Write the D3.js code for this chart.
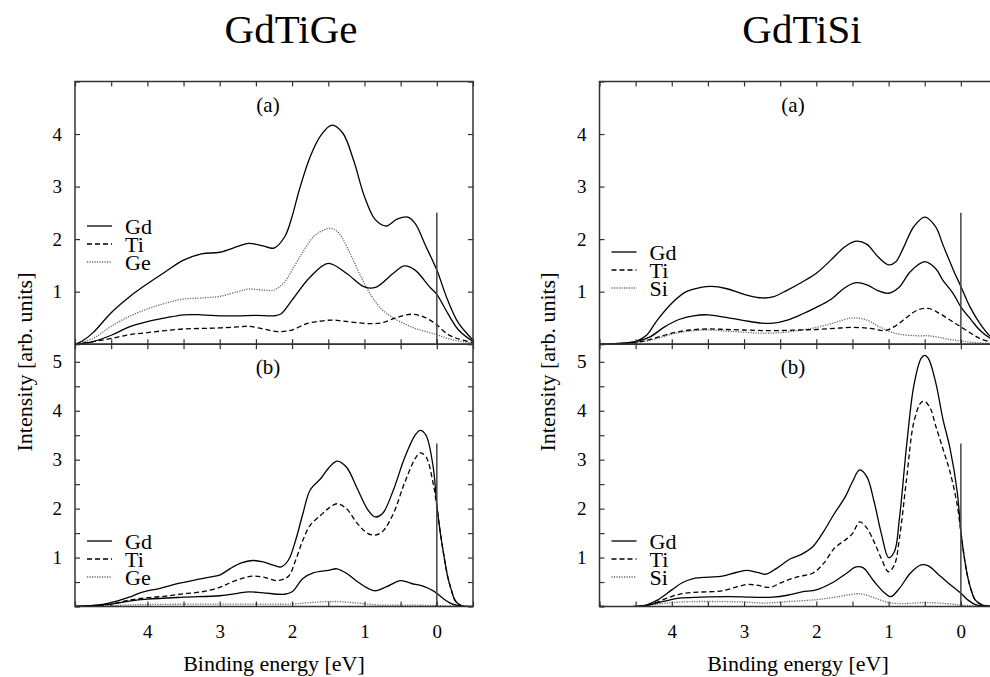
<!DOCTYPE html>
<html>
<head>
<meta charset="utf-8">
<script src="https://cdn.jsdelivr.net/npm/d3@7"></script>
<style>
  html, body { margin: 0; padding: 0; background: #fff; }
  svg { display: block; font-family: 'Liberation Serif', 'DejaVu Serif', serif; }
  svg text { font-family: 'Liberation Serif', 'DejaVu Serif', serif !important; fill: #000; }
</style>
</head>
<body>
<svg id="chart" width="990" height="677"></svg>
<script>
// ---------------- DATA (binding energy [eV], intensity [arb. units]) ----------------
const titles = ["GdTiGe", "GdTiSi"];
const panelLabels = ["(a)", "(b)"];
const legendGe = ["Gd", "Ti", "Ge"];
const legendSi = ["Gd", "Ti", "Si"];
const xTickLabels = [4, 3, 2, 1, 0];
const yTickLabelsTop = [1, 2, 3, 4];
const yTickLabelsBottom = [1, 2, 3, 4, 5];
const fermiTop = 2.5;
const fermiBottom = 3.33;

// GdTiGe (a)
const geA_gdUpper = [[5,0],[4.9,0.06],[4.75,0.22],[4.5,0.6],[4.25,0.9],[4,1.15],[3.75,1.38],[3.5,1.6],[3.25,1.72],[3,1.75],[2.75,1.86],[2.6,1.92],[2.4,1.87],[2.25,1.83],[2.1,2.05],[2,2.43],[1.9,2.94],[1.75,3.57],[1.6,3.98],[1.45,4.17],[1.3,4.02],[1.15,3.5],[1,2.81],[0.85,2.37],[0.7,2.25],[0.55,2.38],[0.4,2.42],[0.3,2.3],[0.15,1.86],[0,1.41],[-0.15,0.84],[-0.3,0.4],[-0.5,0.08]];
const geA_gdLower = [[5,0],[4.75,0.05],[4.5,0.17],[4.25,0.33],[4,0.43],[3.75,0.5],[3.5,0.56],[3.25,0.56],[3,0.54],[2.75,0.54],[2.5,0.55],[2.25,0.54],[2.15,0.58],[2,0.84],[1.75,1.28],[1.5,1.54],[1.25,1.35],[1,1.09],[0.85,1.08],[0.6,1.35],[0.45,1.49],[0.3,1.41],[0.1,1.09],[0,0.95],[-0.15,0.59],[-0.3,0.27],[-0.5,0.05]];
const geA_ti = [[5,0],[4.75,0.05],[4.5,0.11],[4.25,0.18],[4,0.22],[3.75,0.26],[3.5,0.29],[3.25,0.3],[3,0.31],[2.75,0.33],[2.6,0.34],[2.4,0.29],[2.2,0.24],[2,0.27],[1.8,0.39],[1.6,0.44],[1.45,0.46],[1.3,0.44],[1.1,0.41],[0.9,0.39],[0.75,0.41],[0.55,0.51],[0.35,0.57],[0.2,0.53],[0.05,0.42],[0,0.37],[-0.15,0.19],[-0.3,0.1],[-0.5,0.03]];
const geA_ge = [[5,0],[4.75,0.11],[4.5,0.34],[4.25,0.53],[4,0.67],[3.75,0.78],[3.5,0.86],[3.25,0.88],[3,0.91],[2.75,1.0],[2.6,1.05],[2.4,1.03],[2.25,1.03],[2.1,1.19],[2,1.41],[1.85,1.76],[1.7,2.05],[1.55,2.18],[1.45,2.2],[1.35,2.11],[1.2,1.73],[1.05,1.29],[0.9,0.91],[0.75,0.65],[0.6,0.5],[0.45,0.39],[0.3,0.3],[0.15,0.24],[0,0.18],[-0.15,0.11],[-0.3,0.06],[-0.5,0.02]];

// GdTiGe (b)
const geB_gdUpper = [[5,0],[4.75,0.02],[4.5,0.08],[4.25,0.19],[4.1,0.28],[4,0.32],[3.85,0.36],[3.6,0.46],[3.35,0.54],[3.1,0.61],[3,0.64],[2.85,0.78],[2.7,0.89],[2.55,0.94],[2.4,0.91],[2.25,0.84],[2.15,0.81],[2.05,0.95],[1.95,1.36],[1.85,1.9],[1.75,2.38],[1.6,2.62],[1.5,2.82],[1.38,2.97],[1.25,2.85],[1.1,2.41],[0.95,1.97],[0.85,1.83],[0.75,1.9],[0.6,2.38],[0.45,3.02],[0.3,3.5],[0.23,3.6],[0.15,3.5],[0.05,2.85],[0,2.07],[-0.05,1.49],[-0.1,1.02],[-0.15,0.61],[-0.2,0.34],[-0.25,0.13],[-0.3,0.05],[-0.35,0.01],[-0.5,0]];
const geB_ti = [[5,0],[4.75,0.01],[4.5,0.05],[4.25,0.13],[4,0.18],[3.75,0.21],[3.5,0.26],[3.25,0.3],[3,0.39],[2.85,0.49],[2.7,0.57],[2.55,0.62],[2.4,0.6],[2.2,0.53],[2.05,0.62],[1.95,0.95],[1.85,1.36],[1.75,1.66],[1.6,1.87],[1.5,2.0],[1.38,2.1],[1.25,2.0],[1.1,1.7],[0.95,1.49],[0.85,1.46],[0.75,1.53],[0.6,1.9],[0.45,2.51],[0.3,3.02],[0.23,3.14],[0.15,3.06],[0.05,2.51],[0,2.04],[-0.05,1.49],[-0.1,1.02],[-0.15,0.61],[-0.2,0.34],[-0.25,0.13],[-0.3,0.05],[-0.35,0.01],[-0.5,0]];
const geB_gdLower = [[5,0],[4.5,0.05],[4.25,0.11],[4,0.15],[3.5,0.19],[3,0.22],[2.75,0.27],[2.6,0.3],[2.4,0.28],[2.1,0.25],[2,0.3],[1.85,0.57],[1.7,0.69],[1.5,0.74],[1.38,0.77],[1.25,0.68],[1.1,0.51],[0.95,0.37],[0.85,0.32],[0.7,0.4],[0.5,0.53],[0.35,0.47],[0.2,0.42],[0.05,0.32],[0,0.27],[-0.1,0.15],[-0.2,0.06],[-0.3,0.02],[-0.5,0]];
const geB_ge = [[5,0],[4.5,0.02],[4,0.04],[3,0.05],[2.5,0.05],[2,0.05],[1.75,0.08],[1.5,0.1],[1.35,0.1],[1.1,0.07],[0.8,0.03],[0.5,0.03],[0,0.02],[-0.3,0.005],[-0.5,0]];

// GdTiSi (a)
const siA_gdUpper = [[5,0],[4.75,0.01],[4.5,0.05],[4.35,0.17],[4.2,0.46],[4,0.78],[3.8,1.0],[3.6,1.08],[3.45,1.1],[3.25,1.06],[3,0.95],[2.75,0.88],[2.6,0.9],[2.4,1.03],[2.2,1.18],[2,1.35],[1.8,1.6],[1.6,1.86],[1.45,1.96],[1.3,1.9],[1.15,1.67],[1,1.51],[0.9,1.57],[0.8,1.82],[0.65,2.24],[0.5,2.42],[0.35,2.24],[0.25,1.9],[0.1,1.4],[0,1.1],[-0.13,0.7],[-0.26,0.4],[-0.4,0.16],[-0.5,0.08]];
const siA_gdLower = [[5,0],[4.5,0.05],[4.3,0.14],[4.1,0.33],[3.9,0.47],[3.7,0.54],[3.5,0.56],[3.25,0.51],[3,0.45],[2.75,0.4],[2.6,0.4],[2.4,0.46],[2.2,0.57],[2,0.7],[1.8,0.85],[1.6,1.08],[1.45,1.17],[1.3,1.13],[1.15,1.02],[1,0.97],[0.85,1.09],[0.7,1.38],[0.5,1.57],[0.35,1.44],[0.25,1.22],[0.1,0.95],[0,0.71],[-0.15,0.45],[-0.26,0.27],[-0.4,0.12],[-0.5,0.06]];
const siA_ti = [[5,0],[4.5,0.03],[4.25,0.11],[4,0.21],[3.75,0.27],[3.5,0.29],[3.25,0.28],[3,0.27],[2.75,0.26],[2.5,0.26],[2.25,0.27],[2,0.28],[1.75,0.3],[1.5,0.32],[1.25,0.3],[1.05,0.26],[0.9,0.35],[0.75,0.51],[0.6,0.65],[0.45,0.68],[0.3,0.59],[0.15,0.46],[0,0.33],[-0.15,0.2],[-0.26,0.11],[-0.4,0.05],[-0.5,0.02]];
const siA_si = [[5,0],[4.5,0.03],[4.25,0.09],[4,0.19],[3.75,0.25],[3.5,0.27],[3.25,0.25],[3,0.23],[2.75,0.21],[2.5,0.22],[2.25,0.26],[2,0.32],[1.75,0.41],[1.55,0.49],[1.45,0.5],[1.3,0.46],[1.15,0.35],[1,0.25],[0.85,0.19],[0.6,0.16],[0.45,0.16],[0.3,0.13],[0.15,0.09],[0,0.06],[-0.2,0.03],[-0.5,0.01]];

// GdTiSi (b)
const siB_gdUpper = [[5,0],[4.5,0],[4.35,0.03],[4.2,0.13],[4,0.34],[3.85,0.49],[3.7,0.57],[3.5,0.6],[3.3,0.62],[3.1,0.7],[2.95,0.74],[2.8,0.69],[2.7,0.66],[2.55,0.78],[2.35,0.98],[2.2,1.07],[2.05,1.22],[1.9,1.53],[1.75,1.9],[1.6,2.24],[1.5,2.55],[1.4,2.79],[1.3,2.65],[1.2,2.14],[1.1,1.49],[1,1.0],[0.92,1.12],[0.85,1.8],[0.75,3.3],[0.65,4.52],[0.55,5.07],[0.5,5.13],[0.45,5.07],[0.35,4.59],[0.25,3.84],[0.15,3.23],[0.05,2.34],[0,1.53],[-0.05,0.98],[-0.1,0.57],[-0.15,0.3],[-0.2,0.13],[-0.3,0.03],[-0.5,0]];
const siB_ti = [[5,0],[4.5,0],[4.3,0.04],[4.1,0.15],[3.9,0.25],[3.7,0.29],[3.5,0.3],[3.3,0.32],[3.1,0.4],[2.95,0.45],[2.8,0.43],[2.65,0.39],[2.45,0.51],[2.25,0.61],[2.05,0.68],[1.9,0.88],[1.75,1.19],[1.6,1.36],[1.5,1.49],[1.4,1.73],[1.3,1.6],[1.2,1.32],[1.1,0.98],[1,0.71],[0.92,0.85],[0.85,1.39],[0.75,2.62],[0.65,3.77],[0.55,4.17],[0.5,4.19],[0.42,4.04],[0.35,3.7],[0.25,3.23],[0.15,2.75],[0.05,2.07],[0,1.53],[-0.05,0.98],[-0.1,0.57],[-0.15,0.3],[-0.2,0.13],[-0.3,0.03],[-0.5,0]];
const siB_gdLower = [[5,0],[4.5,0],[4.3,0.04],[4.1,0.11],[3.9,0.17],[3.6,0.19],[3.2,0.2],[2.9,0.19],[2.6,0.19],[2.4,0.23],[2.2,0.3],[2,0.34],[1.8,0.47],[1.6,0.66],[1.45,0.81],[1.35,0.79],[1.2,0.51],[1.05,0.27],[0.97,0.2],[0.85,0.37],[0.7,0.68],[0.55,0.85],[0.45,0.83],[0.3,0.64],[0.15,0.45],[0,0.27],[-0.1,0.13],[-0.2,0.04],[-0.3,0.01],[-0.5,0]];
const siB_si = [[5,0],[4.5,0],[4.2,0.05],[4,0.08],[3.7,0.1],[3.3,0.1],[3,0.09],[2.7,0.07],[2.4,0.1],[2,0.14],[1.7,0.2],[1.45,0.26],[1.35,0.25],[1.2,0.18],[1,0.08],[0.8,0.06],[0.5,0.08],[0.2,0.06],[0,0.03],[-0.2,0.01],[-0.5,0]];

// ---------------- DRAWING ----------------
const FONT = "'Liberation Serif', 'DejaVu Serif', serif";
const svg = d3.select("#chart").attr("font-family", FONT);
const FONT_TICK = 19, FONT_LAB = 22;

const columns = [
  { title: titles[0], cx: 291, x0: 75, x1: 473, legend: legendGe, legTopY: 227,
    top: [geA_gdUpper, geA_gdLower, geA_ti, geA_ge], bottom: [geB_gdUpper, geB_gdLower, geB_ti, geB_ge],
    ylabX: 25, xlabCx: 274, labCx: 268 },
  { title: titles[1], cx: 802, x0: 599.5, x1: 997, legend: legendSi, legTopY: 253,
    top: [siA_gdUpper, siA_gdLower, siA_ti, siA_si], bottom: [siB_gdUpper, siB_gdLower, siB_ti, siB_si],
    ylabX: 548, xlabCx: 798, labCx: 793 }
];
const styles = [
  { stroke: "#000", dash: null, w: 1.3 },
  { stroke: "#000", dash: null, w: 1.3 },
  { stroke: "#000", dash: "5,3", w: 1.3 },
  { stroke: "#666", dash: "1.2,1.3", w: 1.3 }
];
const legendStyleIdx = [0, 2, 3];

const yTopPx = 81.5, yMidPx = 344.2, yBotPx = 606.5;
const half = d3.range(-0.5, 5.01, 0.5);

function addText(sel, size) {
  return sel.attr("font-family", FONT).style("font-family", FONT).style("font-size", size + "px").attr("fill", "#000");
}

columns.forEach((col, ci) => {
  const x = d3.scaleLinear().domain([5, -0.5]).range([col.x0, col.x1]);
  const yA = d3.scaleLinear().domain([0, 5]).range([yMidPx, yTopPx]);
  const yB = d3.scaleLinear().domain([0, 5.36]).range([yBotPx, yMidPx]);

  addText(svg.append("text").attr("x", col.cx).attr("y", 43).attr("text-anchor", "middle"), 41).text(col.title);

  const panels = [
    { y: yA, data: col.top, label: panelLabels[0], fermi: fermiTop, yTicks: d3.range(0, 5.01, 1), yLabels: yTickLabelsTop, legY: col.legTopY, bottomLabels: false },
    { y: yB, data: col.bottom, label: panelLabels[1], fermi: fermiBottom, yTicks: d3.range(0, 5.36, 0.5), yLabels: yTickLabelsBottom, legY: 542, bottomLabels: true }
  ];

  panels.forEach((p, pi) => {
    const g = svg.append("g");
    const yr = p.y.range();
    const clipId = `clip${ci}${pi}`;
    svg.append("clipPath").attr("id", clipId).append("rect")
       .attr("x", col.x0).attr("y", yr[1]).attr("width", col.x1 - col.x0).attr("height", yr[0] - yr[1]);

    const line = d3.line().x(d => x(d[0])).y(d => p.y(d[1])).curve(d3.curveCatmullRom.alpha(0.5));
    const cg = g.append("g").attr("clip-path", `url(#${clipId})`);
    [3, 2, 1, 0].forEach(si => {
      const st = styles[si];
      cg.append("path").attr("d", line(p.data[si])).attr("fill", "none")
        .attr("stroke", st.stroke).attr("stroke-width", st.w)
        .attr("stroke-dasharray", st.dash);
    });

    g.append("line").attr("x1", x(0)).attr("x2", x(0)).attr("y1", p.y(0)).attr("y2", p.y(p.fermi))
     .attr("stroke", "#444").attr("stroke-width", 1.5);

    const axL = d3.axisLeft(p.y).tickValues(p.yTicks).tickSizeInner(-5).tickSizeOuter(0).tickPadding(13)
                  .tickFormat(d => (Math.abs(d - Math.round(d)) < 1e-6 && p.yLabels.includes(Math.round(d))) ? String(Math.round(d)) : "");
    const axR = d3.axisRight(p.y).tickValues(p.yTicks).tickSizeInner(-5).tickSizeOuter(0).tickFormat("");
    const axT = d3.axisTop(x).tickValues(half).tickSizeInner(-5).tickSizeOuter(0).tickFormat("");
    const axB = d3.axisBottom(x).tickValues(half).tickSizeInner(-5).tickSizeOuter(0).tickPadding(18)
                  .tickFormat(d => (p.bottomLabels && xTickLabels.includes(d)) ? String(d) : "");
    [[axL, `translate(${col.x0},0)`], [axR, `translate(${col.x1},0)`], [axT, `translate(0,${yr[1]})`], [axB, `translate(0,${yr[0]})`]]
      .forEach(([ax, tr]) => {
        const a = g.append("g").attr("transform", tr).call(ax).attr("font-family", FONT);
        a.select(".domain").remove();
        a.selectAll("line").attr("stroke", "#333").attr("stroke-width", 1.2);
        addText(a.selectAll("text"), FONT_TICK);
      });

    g.append("rect").attr("x", col.x0).attr("y", yr[1]).attr("width", col.x1 - col.x0).attr("height", yr[0] - yr[1])
     .attr("fill", "none").attr("stroke", "#333").attr("stroke-width", 1.5);

    addText(g.append("text").attr("x", col.labCx).attr("y", yr[1] + 30).attr("text-anchor", "middle"), 21).text(p.label);

    const lx0 = col.x0 + 12, lx1 = col.x0 + 37, tx = col.x0 + 50;
    col.legend.forEach((name, li) => {
      const cy = p.legY + li * 18;
      const st = styles[legendStyleIdx[li]];
      g.append("line").attr("x1", lx0).attr("x2", lx1).attr("y1", cy - 1).attr("y2", cy - 1)
       .attr("stroke", st.stroke).attr("stroke-width", st.w).attr("stroke-dasharray", st.dash);
      addText(g.append("text").attr("x", tx).attr("y", cy + 7), FONT_LAB).text(name);
    });
  });

  addText(svg.append("text").attr("transform", `translate(${col.ylabX + 7},362) rotate(-90)`)
     .attr("text-anchor", "middle"), FONT_LAB).text("Intensity [arb. units]");
  addText(svg.append("text").attr("x", col.xlabCx).attr("y", 671).attr("text-anchor", "middle"), FONT_LAB)
     .text("Binding energy [eV]");
});
</script>
</body>
</html>
